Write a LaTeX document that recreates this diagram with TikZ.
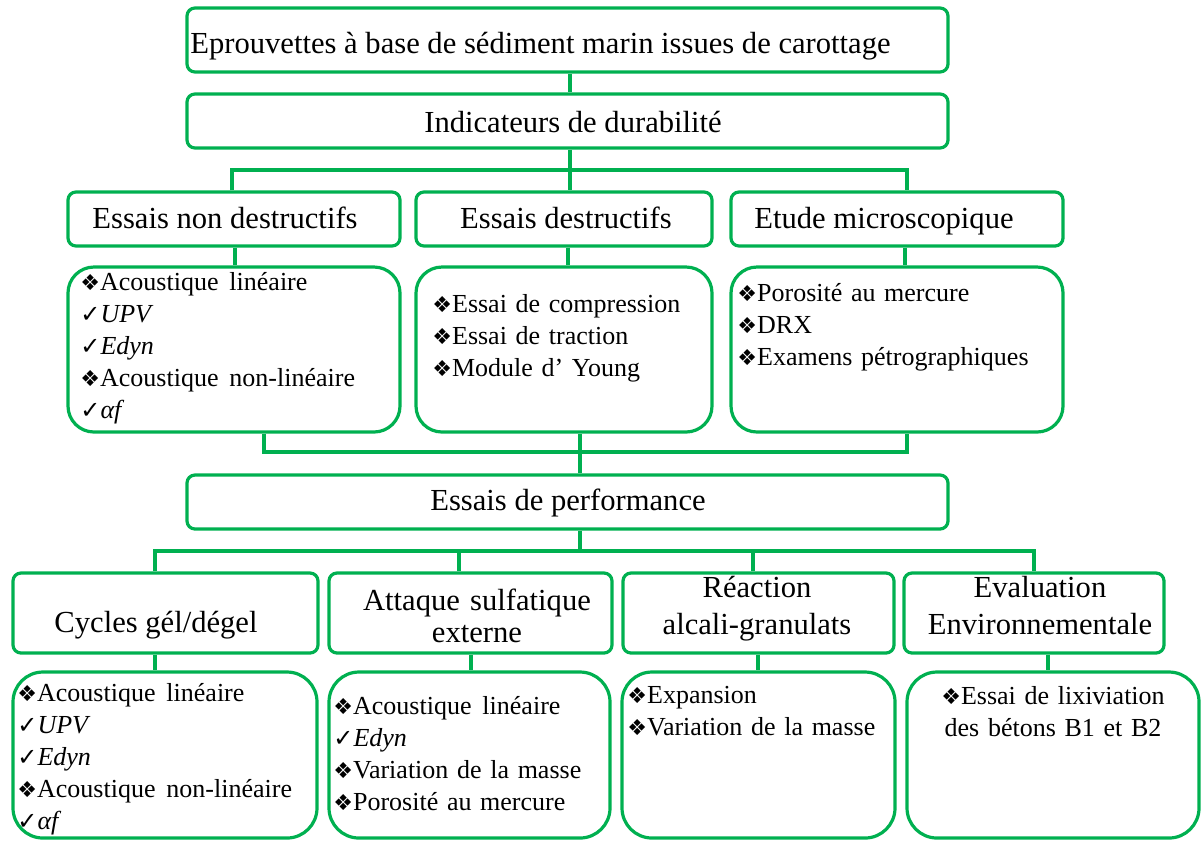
\documentclass[tikz,border=0pt]{standalone}
\usepackage{fontspec}
\setmainfont{Liberation Serif}
\newfontfamily\symbfont{DejaVu Sans}
\usetikzlibrary{fit}
\definecolor{vert}{RGB}{0,176,80}
\newcommand{\puce}{{\symbfont\fontsize{11}{11}\selectfont ❖}}
\newcommand{\coche}{{\symbfont\fontsize{12}{12}\selectfont ✓}}
\newcommand{\gap}{\hspace{0.42em}}

\begin{document}
\begin{tikzpicture}[x=0.5pt,y=-0.5pt,
  boite/.style={draw=vert, line width=1.6pt, rounded corners=4pt, inner sep=0pt},
  cadre/.style={boite, rounded corners=13pt},
  lien/.style={draw=vert, line width=1.6pt},
  titre/.style={font=\fontsize{15.3}{18}\selectfont, inner sep=0pt, anchor=base},
  liste/.style={font=\fontsize{13}{16.1}\selectfont, inner sep=0pt, align=left, text width=160pt, anchor=base west}]
\useasboundingbox (0,0) rectangle (1202,843);
%top of the chart
\node[boite, fit={(187,8) (948,72)}] (a) {};
\node[titre, anchor=base west] (ta) at (190,53) {Eprouvettes à base de sédiment marin issues de carottage};
\node[boite, fit={(187,94) (948,148)}] (b) {};
\node[titre] (tb) at (573,132) {Indicateurs de durabilité};
%the three kinds of tests
\node[boite, fit={(68,192) (400,246)}] (c1) {};
\node[boite, fit={(416,192) (712,246)}] (c2) {};
\node[boite, fit={(731,192) (1063,246)}] (c3) {};
\node[titre] (tc1) at (225,228) {Essais non destructifs};
\node[titre] (tc2) at (566,228) {Essais destructifs};
\node[titre] (tc3) at (884,228) {Etude microscopique};
\node[cadre, fit={(68,267) (400,432)}] (d1) {};
\node[cadre, fit={(416,267) (712,432)}] (d2) {};
\node[cadre, fit={(731,267) (1063,432)}] (d3) {};
\node[liste] (ld1) at (80,290) {\puce Acoustique\gap linéaire\\ \coche\textit{UPV}\\ \coche\textit{Edyn}\\ \puce Acoustique\gap non-linéaire\\ \coche\textit{αf}};
\node[liste, font=\fontsize{13}{16}\selectfont] (ld2) at (432,312) {\puce Essai de compression\\ \puce Essai de traction\\ \puce Module d’ Young};
\node[liste, font=\fontsize{13}{16}\selectfont] (ld3) at (737,301) {\puce Porosité au mercure\\ \puce DRX\\ \puce Examens pétrographiques};
%performance
\node[boite, fit={(187,475) (948,529)}] (e) {};
\node[titre] (te) at (568,510) {Essais de performance};
\node[boite, fit={(13,573) (318,653)}] (f1) {};
\node[boite, fit={(329,573) (612,653)}] (f2) {};
\node[boite, fit={(623,573) (894,653)}] (f3) {};
\node[boite, fit={(904,573) (1164,653)}] (f4) {};
\node[titre] (tf1) at (156,632) {Cycles gél/dégel};
\node[titre, font=\fontsize{15.3}{16}\selectfont, align=center, text width=140pt] (tf2) at (477,610) {Attaque sulfatique\\externe};
\node[titre, font=\fontsize{15.3}{18.5}\selectfont, align=center, text width=130pt] (tf3) at (757,597) {Réaction\\alcali-granulats};
\node[titre, font=\fontsize{15.3}{18.5}\selectfont, align=center, text width=130pt] (tf4) at (1040,597) {Evaluation\\Environnementale};
\node[cadre, rounded corners=15pt, fit={(13,672) (317,838)}] (g1) {};
\node[cadre, rounded corners=15pt, fit={(329,672) (610,838)}] (g2) {};
\node[cadre, rounded corners=15pt, fit={(622,672) (895,838)}] (g3) {};
\node[cadre, rounded corners=15pt, fit={(907,672) (1199,838)}] (g4) {};
\node[liste] (lg1) at (17,701) {\puce Acoustique\gap linéaire\\ \coche\textit{UPV}\\ \coche\textit{Edyn}\\ \puce Acoustique\gap non-linéaire\\ \coche\textit{αf}};
\node[liste, font=\fontsize{13}{16}\selectfont] (lg2) at (333,714) {\puce Acoustique\gap linéaire\\ \coche\textit{Edyn}\\ \puce Variation de la masse\\ \puce Porosité au mercure};
\node[liste, font=\fontsize{13}{16}\selectfont] (lg3) at (627,703) {\puce Expansion\\ \puce Variation de la masse};
\node[liste, font=\fontsize{13}{16}\selectfont, align=center, anchor=base] (lg4) at (1053,704) {\puce Essai de lixiviation\\ des bétons B1 et B2};
%connectors
\draw[lien] (a.south -| 570,0) -- (b.north -| 570,0);
\draw[lien] (b.south -| 570,0) -- (c2.north -| 570,0);
\draw[lien] (c1.north -| 232,0) -- (232,170) -- (907,170) -- (c3.north -| 907,0);
\draw[lien] (c1.south -| 235,0) -- (d1.north -| 235,0);
\draw[lien] (c2.south -| 568,0) -- (d2.north -| 568,0);
\draw[lien] (c3.south -| 905,0) -- (d3.north -| 905,0);
\draw[lien] (d1.south -| 264,0) -- (264,452) -- (907,452) -- (d3.south -| 907,0);
\draw[lien] (d2.south -| 580,0) -- (e.north -| 580,0);
\draw[lien] (e.south -| 580,0) -- (580,551);
\draw[lien] (f1.north -| 155,0) -- (155,551) -- (1034,551) -- (f4.north -| 1034,0);
\draw[lien] (f2.north -| 459,0) -- (459,551);
\draw[lien] (f3.north -| 753,0) -- (753,551);
\draw[lien] (f1.south -| 155,0) -- (g1.north -| 155,0);
\draw[lien] (f2.south -| 471,0) -- (g2.north -| 471,0);
\draw[lien] (f3.south -| 758,0) -- (g3.north -| 758,0);
\draw[lien] (f4.south -| 1048,0) -- (g4.north -| 1048,0);
\end{tikzpicture}
\end{document}
